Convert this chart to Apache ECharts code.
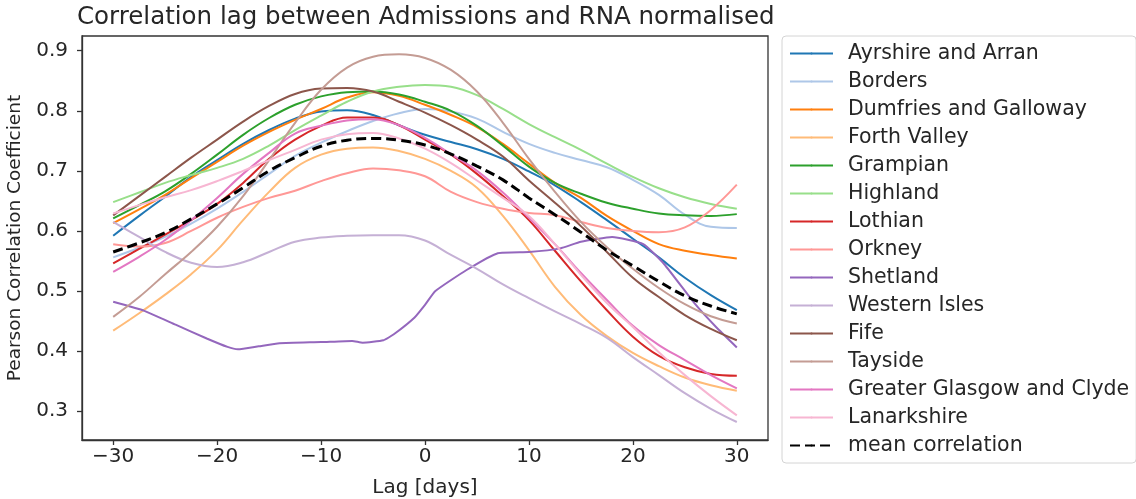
<!DOCTYPE html>
<html>
<head>
<meta charset="utf-8">
<script src="https://cdn.jsdelivr.net/npm/echarts@6/dist/echarts.min.js"></script>
<style>
  html, body { margin: 0; padding: 0; background: #fff; }
  #main { width: 1136px; height: 499px; }
</style>
</head>
<body>
<div id="main"></div>
<script>
    // lag in days, every 2.5 days
    var lags = [-30, -27.5, -25, -22.5, -20, -17.5, -15, -12.5, -10, -7.5, -5, -2.5, 0,
                2.5, 5, 7.5, 10, 12.5, 15, 17.5, 20, 22.5, 25, 27.5, 30];

    var ayrshire     = [0.592, 0.625, 0.657, 0.690, 0.718, 0.745, 0.768, 0.787, 0.799, 0.801, 0.793, 0.776, 0.760, 0.748, 0.736, 0.720, 0.699, 0.676, 0.648, 0.618, 0.587, 0.556, 0.522, 0.493, 0.468];
    var borders      = [0.556, 0.572, 0.590, 0.612, 0.637, 0.665, 0.695, 0.725, 0.747, 0.766, 0.783, 0.796, 0.803, 0.799, 0.787, 0.765, 0.745, 0.730, 0.718, 0.706, 0.685, 0.660, 0.627, 0.607, 0.605];
    var dumfries     = [0.613, 0.636, 0.660, 0.688, 0.715, 0.742, 0.765, 0.785, 0.803, 0.822, 0.831, 0.825, 0.810, 0.793, 0.773, 0.745, 0.712, 0.680, 0.655, 0.625, 0.600, 0.578, 0.567, 0.560, 0.554];
    var forthValley  = [0.434, 0.463, 0.494, 0.528, 0.568, 0.618, 0.665, 0.705, 0.727, 0.737, 0.739, 0.733, 0.720, 0.700, 0.672, 0.625, 0.568, 0.507, 0.460, 0.425, 0.397, 0.375, 0.356, 0.343, 0.334];
    var grampian     = [0.621, 0.643, 0.666, 0.695, 0.727, 0.760, 0.788, 0.810, 0.824, 0.831, 0.832, 0.827, 0.815, 0.800, 0.775, 0.742, 0.707, 0.680, 0.662, 0.647, 0.637, 0.629, 0.626, 0.625, 0.628];
    var highland     = [0.648, 0.664, 0.680, 0.693, 0.705, 0.720, 0.742, 0.768, 0.792, 0.815, 0.832, 0.840, 0.843, 0.840, 0.826, 0.803, 0.778, 0.756, 0.735, 0.712, 0.690, 0.671, 0.656, 0.645, 0.637];
    var lothian      = [0.546, 0.570, 0.594, 0.618, 0.645, 0.680, 0.720, 0.752, 0.775, 0.789, 0.789, 0.776, 0.752, 0.727, 0.695, 0.658, 0.618, 0.567, 0.516, 0.468, 0.424, 0.392, 0.373, 0.362, 0.359];
    var orkney       = [0.578, 0.574, 0.580, 0.600, 0.622, 0.640, 0.655, 0.667, 0.683, 0.696, 0.704, 0.701, 0.691, 0.665, 0.648, 0.637, 0.630, 0.626, 0.615, 0.605, 0.600, 0.598, 0.606, 0.635, 0.677];
    var westernIsles = [0.615, 0.590, 0.565, 0.547, 0.540, 0.548, 0.565, 0.582, 0.589, 0.592, 0.593, 0.593, 0.584, 0.560, 0.537, 0.511, 0.488, 0.466, 0.445, 0.422, 0.390, 0.360, 0.330, 0.304, 0.282];
    var fife         = [0.626, 0.658, 0.690, 0.722, 0.752, 0.782, 0.808, 0.828, 0.837, 0.838, 0.832, 0.815, 0.797, 0.776, 0.752, 0.724, 0.684, 0.647, 0.608, 0.565, 0.522, 0.490, 0.460, 0.437, 0.418];
    var tayside      = [0.457, 0.490, 0.528, 0.565, 0.607, 0.658, 0.718, 0.780, 0.835, 0.872, 0.890, 0.894, 0.888, 0.868, 0.832, 0.780, 0.720, 0.665, 0.615, 0.573, 0.537, 0.505, 0.478, 0.458, 0.446];
    var glasgow      = [0.532, 0.557, 0.585, 0.618, 0.655, 0.695, 0.730, 0.762, 0.775, 0.784, 0.786, 0.776, 0.755, 0.728, 0.700, 0.664, 0.622, 0.578, 0.530, 0.485, 0.442, 0.410, 0.385, 0.360, 0.338];
    var lanarkshire  = [0.629, 0.643, 0.656, 0.668, 0.683, 0.700, 0.718, 0.735, 0.752, 0.761, 0.763, 0.754, 0.737, 0.713, 0.684, 0.655, 0.625, 0.578, 0.527, 0.480, 0.440, 0.398, 0.360, 0.325, 0.293];
    var meanCorr     = [0.565, 0.580, 0.597, 0.620, 0.645, 0.672, 0.700, 0.722, 0.741, 0.751, 0.754, 0.751, 0.743, 0.728, 0.708, 0.685, 0.655, 0.627, 0.598, 0.568, 0.542, 0.516, 0.492, 0.475, 0.462];

    // Shetland has kinks, so it gets its own lags
    var shetlandLags   = [-30, -27, -24, -21, -19, -18, -16, -14, -10, -7, -6, -4, -3, -1, 0, 1, 4, 7, 10, 13, 15, 18, 21, 23, 26, 28, 30];
    var shetlandValues = [0.482, 0.467, 0.444, 0.421, 0.407, 0.403, 0.408, 0.413, 0.415, 0.417, 0.414, 0.418, 0.428, 0.456, 0.477, 0.500, 0.535, 0.563, 0.565, 0.571, 0.582, 0.590, 0.578, 0.545, 0.478, 0.440, 0.406];

    var xTicks = [-30, -20, -10, 0, 10, 20, 30];
    var yTicks = [0.3, 0.4, 0.5, 0.6, 0.7, 0.8, 0.9];

    var regions = [
        ['Ayrshire and Arran', ayrshire, '#1f77b4'],
        ['Borders', borders, '#aec7e8'],
        ['Dumfries and Galloway', dumfries, '#ff7f0e'],
        ['Forth Valley', forthValley, '#ffbb78'],
        ['Grampian', grampian, '#2ca02c'],
        ['Highland', highland, '#98df8a'],
        ['Lothian', lothian, '#d62728'],
        ['Orkney', orkney, '#ff9896'],
        ['Shetland', null, '#9467bd'],
        ['Western Isles', westernIsles, '#c5b0d5'],
        ['Fife', fife, '#8c564b'],
        ['Tayside', tayside, '#c49c94'],
        ['Greater Glasgow and Clyde', glasgow, '#e377c2'],
        ['Lanarkshire', lanarkshire, '#f7b6d2']
    ];

    function pairs(xs, ys) {
        return xs.map(function (x, i) { return [x, ys[i]]; });
    }

    var font = 'DejaVu Sans';
    var solidIcon = 'path://M0,0h43v3h-43z';
    var dashIcon = 'path://M0,0h11v3h-11z M16,0h11v3h-11z M32,0h11v3h-11z';

    var series = regions.map(function (r) {
        var isShet = r[1] === null;
        return {
            name: r[0],
            type: 'line',
            data: isShet ? pairs(shetlandLags, shetlandValues) : pairs(lags, r[1]),
            smooth: isShet ? 0.15 : 0.4,
            symbol: 'none',
            legendIcon: solidIcon,
            color: r[2],
            lineStyle: { width: 2, color: r[2] }
        };
    });
    series.push({
        name: 'mean correlation',
        type: 'line',
        data: pairs(lags, meanCorr),
        smooth: 0.4,
        symbol: 'none',
        legendIcon: dashIcon,
        color: '#000',
        lineStyle: { width: 3, color: '#000', type: [10, 5] }
    });

    var chart = echarts.init(document.getElementById('main'));
    var option = {
        animation: false,
        textStyle: { fontFamily: font },
        title: {
            text: 'Correlation lag between Admissions and RNA normalised',
            left: 77,
            top: 5,
            padding: 0,
            textStyle: { fontFamily: font, fontSize: 24.5, fontWeight: 'normal', color: '#262626' }
        },
        grid: {
            left: 82, right: 368, top: 36, bottom: 59,
            outerBoundsMode: 'none',
            containLabel: false,
            show: true, borderColor: '#333', borderWidth: 1.3
        },
        legend: {
            orient: 'vertical',
            left: 782,
            top: 36,
            padding: [7, 7, 7, 7],
            itemGap: 7,
            itemWidth: 43,
            itemHeight: 2.6,
            borderColor: '#d4d4d4',
            borderWidth: 1,
            borderRadius: 4,
            textStyle: { fontFamily: font, fontSize: 20.5, lineHeight: 20, color: '#262626', padding: [0, 0, 0, 10] }
        },
        xAxis: {
            type: 'value',
            min: -33,
            max: 33,
            name: 'Lag [days]',
            nameLocation: 'middle',
            nameGap: 38,
            nameTextStyle: { fontFamily: font, fontSize: 20, color: '#262626' },
            axisLine: { show: true, onZero: false, lineStyle: { color: '#333', width: 1.3 } },
            axisTick: { show: true, length: 5, customValues: xTicks, lineStyle: { color: '#333', width: 1.3 } },
            axisLabel: {
                customValues: xTicks, margin: 7, fontSize: 20, color: '#262626', fontFamily: font,
                formatter: function (v) { return v < 0 ? '\u2212' + (-v) : String(v); }
            },
            splitLine: { show: false }
        },
        yAxis: {
            type: 'value',
            min: 0.252,
            max: 0.9245,
            name: 'Pearson Correlation Coefficient',
            nameLocation: 'middle',
            nameGap: 57,
            nameTextStyle: { fontFamily: font, fontSize: 18.5, color: '#262626' },
            axisLine: { show: true, onZero: false, lineStyle: { color: '#333', width: 1.3 } },
            axisTick: { show: true, length: 5, customValues: yTicks, lineStyle: { color: '#333', width: 1.3 } },
            axisLabel: {
                customValues: yTicks, margin: 14, fontSize: 20, color: '#262626', fontFamily: font,
                formatter: function (v) { return v.toFixed(1); }
            },
            splitLine: { show: false }
        },
        series: series
    };
    chart.setOption(option);
</script>
</body>
</html>
